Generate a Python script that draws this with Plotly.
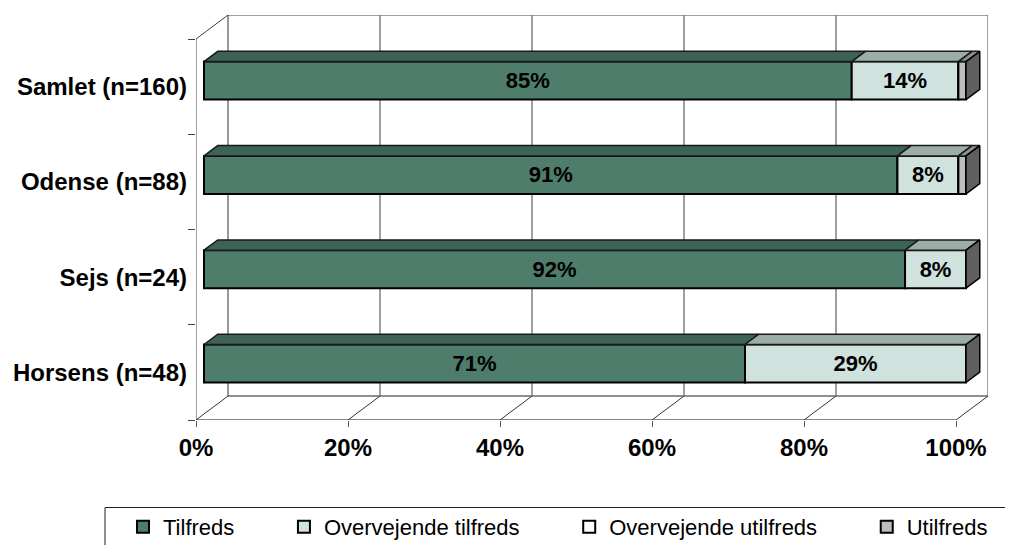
import plotly.graph_objects as go

categories = ["Samlet (n=160)", "Odense (n=88)", "Sejs (n=24)", "Horsens (n=48)"]
series_names = ["Tilfreds", "Overvejende tilfreds", "Overvejende utilfreds", "Utilfreds"]
tilfreds = [85, 91, 92, 71]
overvejende_tilfreds = [14, 8, 8, 29]
overvejende_utilfreds = [0, 0, 0, 0]
utilfreds = [1, 1, 0, 0]
x_ticks = [0, 20, 40, 60, 80, 100]
x_tick_labels = ["0%", "20%", "40%", "60%", "80%", "100%"]

series = [tilfreds, overvejende_tilfreds, overvejende_utilfreds, utilfreds]
front_colors = ["#4F7D6C", "#CFE2DD", "#FFFFFF", "#BDBDBD"]
top_colors = ["#3D6355", "#9CADA8", "#B0B0B0", "#8E8E8E"]
side_color = "#5F5F5F"
FONT = "Liberation Sans"
PAD = "\u00a0" * 7 + "\u200a"

# oblique projection: depth 0 = front plane, depth 1 = back wall
PX_X, PX_Y = 7.6, 95.25
DX, DY = 32 / PX_X, 24 / PX_Y
BAR_D0, BAR_D1 = 0.25, 0.68
BAR_H = 38 / PX_Y
BAR_SX = 762 / 760   # the bars' own plane is a touch wider than the floor edge
BAR_PITCH = 0.99
n = len(categories)
y_pos = [n - 0.5 - i for i in range(n)]
bar_pos = [n - 0.5 - i * BAR_PITCH for i in range(n)]


def proj(x, y, d):
    return x + d * DX, y + d * DY


def seg(x0, y0, d0, x1, y1, d1, color, width=1):
    a, b = proj(x0, y0, d0), proj(x1, y1, d1)
    return dict(type="line", xref="x", yref="y", layer="below", x0=a[0], y0=a[1], x1=b[0], y1=b[1],
                line=dict(color=color, width=width))


shapes = []
shapes.append(seg(0, n, 1, 100, n, 1, "#808080", 1.5))
shapes.append(seg(0, 0, 0, 0, n, 0, "#404040", 1))
shapes.append(seg(0, n, 0, 0, n, 1, "#404040", 1))
shapes.append(seg(0, 0, 0, 100, 0, 0, "#606060", 1.5))
shapes.append(seg(0, 0, 1, 100, 0, 1, "#202020", 1))
for t in x_ticks:
    shapes.append(seg(t, 0, 0, t, 0, 1, "#303030", 1))
    if t == 0:
        c, w = "#303030", 1
    elif t == 100:
        c, w = "#404040", 1
    else:
        c, w = "#808080", 1.5
    shapes.append(seg(t, 0, 1, t, n, 1, c, w))

# legend frame, running off the page at right and bottom
shapes.append(dict(type="line", xref="paper", yref="paper", x0=(105 - 196) / 792, x1=(1030 - 196) / 792,
                   y0=(420 - 507.5) / 405, y1=(420 - 507.5) / 405, line=dict(color="#202020", width=1)))
shapes.append(dict(type="line", xref="paper", yref="paper", x0=(105 - 196) / 792, x1=(105 - 196) / 792,
                   y0=(420 - 507.5) / 405, y1=(420 - 545) / 405, line=dict(color="#202020", width=1)))

fig = go.Figure()
bar_y = [p + BAR_D0 * DY for p in bar_pos]
cum = [0.0] * n
for k, (name, vals, fc) in enumerate(zip(series_names, series, front_colors)):
    base = [c * BAR_SX + BAR_D0 * DX for c in cum]
    labels = [f"{v}%" for v in vals]
    fig.add_trace(go.Bar(
        name=name + (PAD if k < len(series) - 1 else ""), orientation="h", y=bar_y,
        x=[v * BAR_SX for v in vals], base=base, width=BAR_H,
        marker=dict(color=fc, line=dict(color="#000000", width=2)),
        text=[lab if v >= 5 else "" for lab, v in zip(labels, vals)],
        textposition="inside", insidetextanchor="middle", textangle=0,
        textfont=dict(family=FONT, size=22, color="#000000", weight="bold"),
        hovertext=labels, hoverinfo="name+text",
    ))
    cum = [c + v for c, v in zip(cum, vals)]

# top and end faces of each bar, projected from the same values
cum = [0.0] * n
for vals, tc in zip(series, top_colors):
    for i, v in enumerate(vals):
        if v <= 0:
            continue
        y = bar_pos[i] + BAR_H / 2
        x0, x1 = cum[i] * BAR_SX, (cum[i] + v) * BAR_SX
        pts = [proj(x0, y, BAR_D0), proj(x1, y, BAR_D0), proj(x1, y, BAR_D1), proj(x0, y, BAR_D1), proj(x0, y, BAR_D0)]
        fig.add_trace(go.Scatter(x=[p[0] for p in pts], y=[p[1] for p in pts], mode="lines", fill="toself",
                                 fillcolor=tc, line=dict(color="#1a1a1a", width=1.5), showlegend=False, hoverinfo="skip"))
    cum = [c + v for c, v in zip(cum, vals)]
for i in range(n):
    yt, yb = bar_pos[i] + BAR_H / 2, bar_pos[i] - BAR_H / 2
    xe = cum[i] * BAR_SX
    pts = [proj(xe, yb, BAR_D0), proj(xe, yt, BAR_D0), proj(xe, yt, BAR_D1), proj(xe, yb, BAR_D1), proj(xe, yb, BAR_D0)]
    fig.add_trace(go.Scatter(x=[p[0] for p in pts], y=[p[1] for p in pts], mode="lines", fill="toself",
                             fillcolor=side_color, line=dict(color="#000000", width=1.5), showlegend=False, hoverinfo="skip"))

fig.update_layout(
    width=1013, height=537,
    margin=dict(l=188, r=33, t=7, b=125, autoexpand=False),
    paper_bgcolor="white", plot_bgcolor="white",
    barmode="overlay", shapes=shapes,
    font=dict(family=FONT, color="#000000"),
    xaxis=dict(range=[0, 100 + DX], tickvals=x_ticks, ticktext=x_tick_labels, ticks="outside", ticklen=6,
               tickcolor="#606060", tickwidth=1, showgrid=False, zeroline=False, showline=False, automargin=False,
               tickfont=dict(family=FONT, size=24, color="#000000", weight="bold")),
    yaxis=dict(range=[0, n + DY], tickvals=y_pos, ticktext=categories, ticks="", showgrid=False, zeroline=False,
               showline=False, ticklabelstandoff=8, automargin=False,
               tickfont=dict(family=FONT, size=24, color="#000000", weight="bold"),
               minor=dict(tickvals=list(range(n + 1)), ticks="outside", ticklen=7, tickcolor="#404040", tickwidth=1)),
    legend=dict(orientation="h", x=(123 - 196) / 792, xanchor="left", y=(420 - 527) / 405, yanchor="middle",
                font=dict(family=FONT, size=22, color="#000000"), traceorder="normal", bgcolor="rgba(0,0,0,0)"),
    showlegend=True,
)
fig.write_html("out.html", default_width="1013px", default_height="537px")
